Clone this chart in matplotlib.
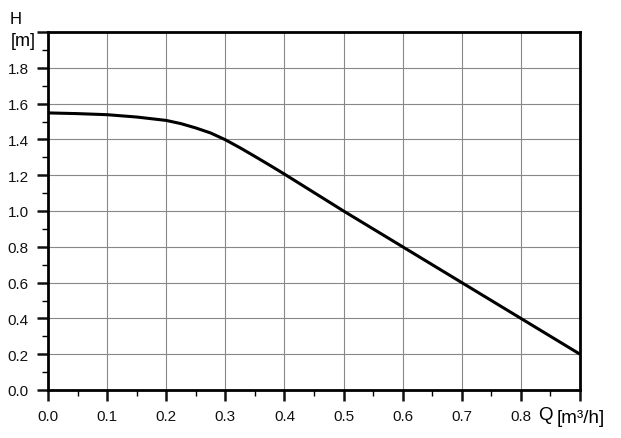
import matplotlib
matplotlib.use("Agg")
import matplotlib.pyplot as plt
import numpy as np
from matplotlib.ticker import MultipleLocator

plt.rcParams['font.family'] = ['Liberation Sans', 'DejaVu Sans']

q = [0.0, 0.05, 0.1, 0.15, 0.2, 0.225, 0.25, 0.275, 0.3, 0.325, 0.35, 0.375, 0.4, 0.5, 0.6, 0.7, 0.8, 0.9]
h = [1.548, 1.544, 1.538, 1.525, 1.506, 1.488, 1.464, 1.436, 1.398, 1.353, 1.305, 1.256, 1.206, 1.00, 0.80, 0.60, 0.40, 0.20]

x_ticks = [0.0, 0.1, 0.2, 0.3, 0.4, 0.5, 0.6, 0.7, 0.8, 0.9]
x_labels = ["0.0", "0.1", "0.2", "0.3", "0.4", "0.5", "0.6", "0.7", "0.8", ""]
y_ticks = [0.0, 0.2, 0.4, 0.6, 0.8, 1.0, 1.2, 1.4, 1.6, 1.8, 2.0]
y_labels = ["0.0", "0.2", "0.4", "0.6", "0.8", "1.0", "1.2", "1.4", "1.6", "1.8", ""]

fig = plt.figure(figsize=(6.21, 4.39), dpi=100)
ax = fig.add_axes([48/621, 1 - 391/439, (580-48)/621, (391-33)/439])

ax.plot(q, h, color='black', lw=2.2, solid_joinstyle='round', solid_capstyle='butt')

ax.set_xlim(0, 0.9)
ax.set_ylim(0, 2.0)
ax.set_xticks(x_ticks)
ax.set_xticklabels(x_labels)
ax.set_yticks(y_ticks)
ax.set_yticklabels(y_labels)
ax.xaxis.set_minor_locator(MultipleLocator(0.05))
ax.yaxis.set_minor_locator(MultipleLocator(0.1))
ax.grid(True, which='major', color='#888888', lw=0.8)
for s in ax.spines.values():
    s.set_linewidth(2.0)
ax.tick_params(which='major', direction='out', length=8, width=1.8, labelsize=11, pad=6, colors='#111111')
ax.tick_params(which='minor', direction='out', length=4, width=1.0)

fig.text(16/621, 1 - 20/439, "H", fontsize=12, ha='center', va='center')
fig.text(23/621, 1 - 42/439, "[m]", fontsize=13, ha='center', va='center')
fig.text(545/621, 1 - 416/439, "Q", fontsize=13.5, ha='center', va='center')
fig.text(581/621, 1 - 419/439, "[m³/h]", fontsize=13.5, ha='center', va='center')

fig.savefig("out.png", dpi=100)
